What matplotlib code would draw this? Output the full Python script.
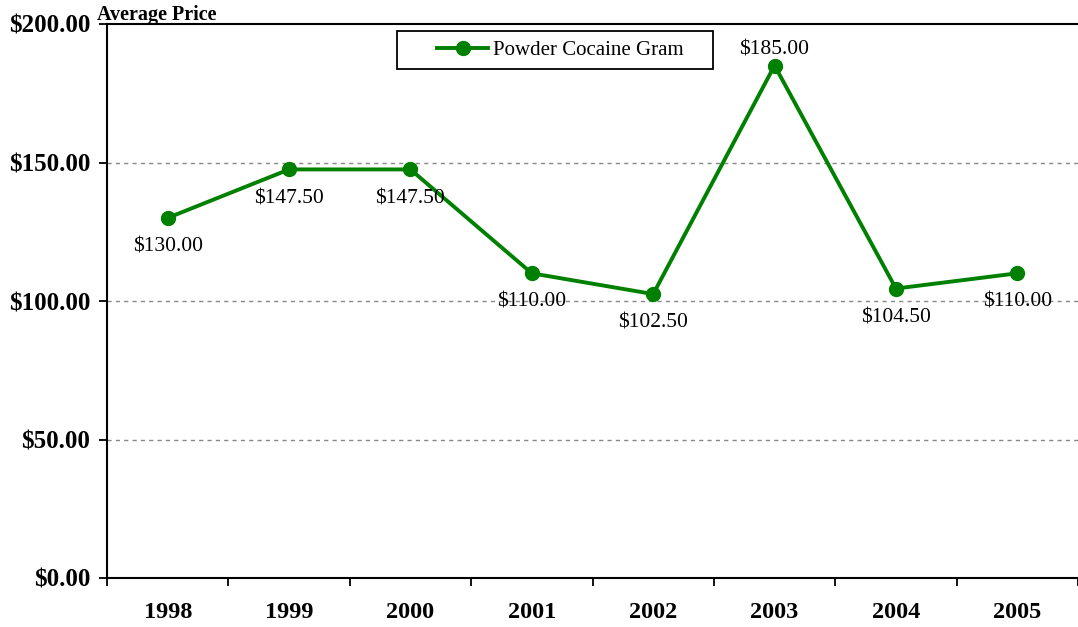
import matplotlib.pyplot as plt
from matplotlib.patches import Rectangle
from matplotlib.ticker import FuncFormatter

years = ['1998', '1999', '2000', '2001', '2002', '2003', '2004', '2005']
prices = [130.00, 147.50, 147.50, 110.00, 102.50, 185.00, 104.50, 110.00]
label_above = [False, False, False, False, False, True, False, False]

plt.rcParams['font.family'] = ['Liberation Serif', 'DejaVu Serif']

fig = plt.figure(figsize=(10.78, 6.27), dpi=100)
ax = fig.add_axes([107 / 1078, 1 - 578 / 627, (1078 - 107) / 1078, (578 - 24) / 627])

x = list(range(len(years)))
green = '#008000'
ax.plot(x, prices, color=green, lw=2.8, marker='o', ms=10, label='Powder Cocaine Gram', zorder=3)

for xi, p, up in zip(x, prices, label_above):
    off = 11 if up else -21
    ax.annotate(f'${p:.2f}', (xi, p), xytext=(0, off), textcoords='offset points',
                ha='center', va='center', fontsize=15.5, color='black')

ax.set_xlim(-0.5, len(years) - 0.5)
ax.set_ylim(0, 200)
ax.set_yticks([0, 50, 100, 150, 200])
ax.yaxis.set_major_formatter(FuncFormatter(lambda v, _: f'${v:.2f}'))
ax.set_xticks(x)
ax.set_xticklabels(years)
ax.set_xticks([i - 0.5 for i in range(len(years) + 1)], minor=True)
ax.tick_params(axis='x', which='major', length=0, pad=17, labelsize=17.5)
ax.tick_params(axis='x', which='minor', length=6, width=1.3, direction='out')
ax.tick_params(axis='y', length=6, width=1.3, direction='out', labelsize=18, pad=6)
for lbl in ax.get_xticklabels() + ax.get_yticklabels():
    lbl.set_fontweight('bold')

for v in [50, 100, 150]:
    ax.axhline(v, color='#888888', lw=1, ls=(0, (3, 3)), zorder=1)

ax.spines['right'].set_visible(False)
for s in ['left', 'bottom', 'top']:
    ax.spines[s].set_linewidth(1.5)

ax.text(-10 / 971, 1 + 4 / 554, 'Average Price', transform=ax.transAxes, ha='left',
        va='baseline', fontsize=14.5, fontweight='bold')

# legend box drawn separately so its padding can be wider than the entries
ax.add_patch(Rectangle((290 / 971, 0.919), 316 / 971, 0.068, transform=ax.transAxes,
                       fill=False, edgecolor='black', lw=1.3, zorder=4, clip_on=False))
ax.legend(loc='center left', bbox_to_anchor=(330 / 971, 0.953), fontsize=15,
          frameon=False, borderpad=0, borderaxespad=0, handlelength=2.45,
          handletextpad=0.25)

fig.savefig('out.png', dpi=100)
